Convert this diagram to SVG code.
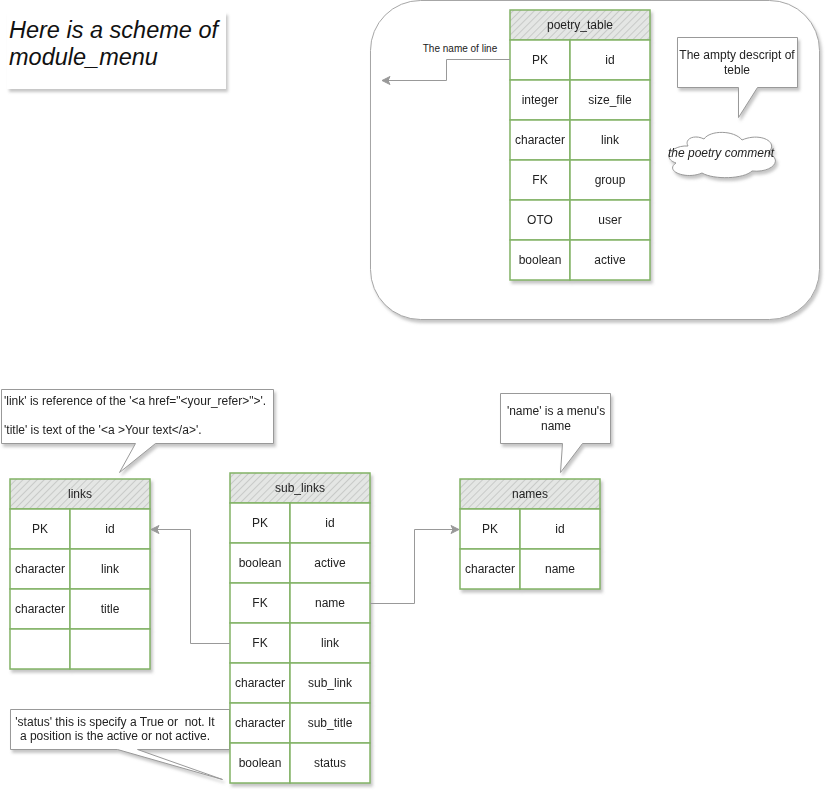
<svg xmlns="http://www.w3.org/2000/svg" width="831" height="803" viewBox="0 0 831 803">
<defs>
<filter id="sh" x="-10%" y="-10%" width="130%" height="130%">
<feDropShadow dx="2" dy="3" stdDeviation="1.5" flood-color="#808080" flood-opacity="0.45"/>
</filter>
<pattern id="hatch" width="5" height="5" patternUnits="userSpaceOnUse" patternTransform="rotate(45)">
<rect width="5" height="5" fill="#e4e6e4"/>
<line x1="0" y1="0" x2="0" y2="5" stroke="#b5b8b5" stroke-width="1.2"/>
</pattern>
<marker id="arr" markerWidth="10" markerHeight="10" refX="9" refY="5" orient="auto" markerUnits="userSpaceOnUse">
<path d="M1,1 L9,5 L1,9 L3,5 Z" fill="#999999" stroke="#999999" stroke-width="1"/>
</marker>
</defs>
<style>
.t{font-family:"Liberation Sans",Arial,sans-serif;font-size:12px;fill:#222;text-anchor:middle}
.cell{fill:#ffffff;stroke:#82b366;stroke-width:1.5}
.hdr{fill:url(#hatch);stroke:#82b366;stroke-width:1.5}
.call{fill:#ffffff;stroke:#999999;stroke-width:1}
.conn{fill:none;stroke:#999999;stroke-width:1}
</style>

<!-- title -->
<g id="title">
<rect x="7" y="12" width="219" height="77" fill="#ffffff" filter="url(#sh)"/>
<text x="9" y="38" font-family="'Liberation Sans',Arial,sans-serif" font-size="23.5" font-style="italic" fill="#111">Here is a scheme of</text>
<text x="9" y="65" font-family="'Liberation Sans',Arial,sans-serif" font-size="23.5" font-style="italic" fill="#111">module_menu</text>
</g>

<!-- container -->
<g id="container">
<rect x="370.5" y="0.5" width="449" height="319" rx="50" ry="50" fill="#ffffff" stroke="#a6a6a6" stroke-width="1" filter="url(#sh)"/>
</g>

<!-- poetry_table -->
<g id="poetry_table" filter="url(#sh)">
<rect class="hdr" x="510" y="10" width="140" height="30"/>
<text class="t" x="580" y="29">poetry_table</text>
<rect class="cell" x="510" y="40" width="60" height="40"/><rect class="cell" x="570" y="40" width="80" height="40"/>
<rect class="cell" x="510" y="80" width="60" height="40"/><rect class="cell" x="570" y="80" width="80" height="40"/>
<rect class="cell" x="510" y="120" width="60" height="40"/><rect class="cell" x="570" y="120" width="80" height="40"/>
<rect class="cell" x="510" y="160" width="60" height="40"/><rect class="cell" x="570" y="160" width="80" height="40"/>
<rect class="cell" x="510" y="200" width="60" height="40"/><rect class="cell" x="570" y="200" width="80" height="40"/>
<rect class="cell" x="510" y="240" width="60" height="40"/><rect class="cell" x="570" y="240" width="80" height="40"/>
<text class="t" x="540" y="64">PK</text><text class="t" x="610" y="64">id</text>
<text class="t" x="540" y="104">integer</text><text class="t" x="610" y="104">size_file</text>
<text class="t" x="540" y="144">character</text><text class="t" x="610" y="144">link</text>
<text class="t" x="540" y="184">FK</text><text class="t" x="610" y="184">group</text>
<text class="t" x="540" y="224">OTO</text><text class="t" x="610" y="224">user</text>
<text class="t" x="540" y="264">boolean</text><text class="t" x="610" y="264">active</text>
</g>

<!-- callout poetry -->
<g id="callout_poetry" filter="url(#sh)">
<path class="call" d="M677.5,37.5 H797.5 V87.5 H757.5 L738.5,117.5 V87.5 H677.5 Z"/>
<text class="t" x="737" y="59">The ampty descript of</text>
<text class="t" x="737" y="74">teble</text>
</g>

<!-- cloud -->
<g id="cloud" filter="url(#sh)">
<path d="M688,146 C672,145 661,158 676,163 C664,171 686,180 702,173 C714,180 744,179 752,171 C772,173 784,160 768,153 C780,142 760,132 742,140 C734,130 710,130 704,139 C694,134 684,139 688,146 Z" fill="#ffffff" stroke="#999999" stroke-width="1"/>
<text class="t" x="721" y="157" font-style="italic">the poetry comment</text>
</g>

<!-- links callout -->
<g id="callout_links" filter="url(#sh)">
<path class="call" d="M1.5,389.5 H273.5 V443.5 H155.5 L119.5,472.5 L135.5,443.5 H1.5 Z"/>
<text class="t" x="4" y="405" style="text-anchor:start">'link' is reference of the '&lt;a href="&lt;your_refer&gt;"&gt;'.</text>
<text class="t" x="4" y="434" style="text-anchor:start">'title' is text of the '&lt;a &gt;Your text&lt;/a&gt;'.</text>
</g>

<!-- names callout -->
<g id="callout_names" filter="url(#sh)">
<path class="call" d="M500.5,393.5 H610.5 V443.5 H582.5 L560.5,472.5 L562.5,443.5 H500.5 Z"/>
<text class="t" x="556" y="415">'name' is a menu's</text>
<text class="t" x="556" y="430">name</text>
</g>

<!-- status callout -->
<g id="callout_status" filter="url(#sh)">
<path class="call" d="M10.5,709.5 H229.5 V749.5 H137.5 L222.5,779.5 L117.5,749.5 H10.5 Z"/>
<text class="t" x="115" y="726" style="white-space:pre">'status' this is specify a True or  not. It</text>
<text class="t" x="115" y="740">a position is the active or not active.</text>
</g>

<!-- links table -->
<g id="links" filter="url(#sh)">
<rect class="hdr" x="10" y="479" width="140" height="30"/>
<text class="t" x="80" y="498">links</text>
<rect class="cell" x="10" y="509" width="60" height="40"/><rect class="cell" x="70" y="509" width="80" height="40"/>
<rect class="cell" x="10" y="549" width="60" height="40"/><rect class="cell" x="70" y="549" width="80" height="40"/>
<rect class="cell" x="10" y="589" width="60" height="40"/><rect class="cell" x="70" y="589" width="80" height="40"/>
<rect class="cell" x="10" y="629" width="60" height="40"/><rect class="cell" x="70" y="629" width="80" height="40"/>
<text class="t" x="40" y="533">PK</text><text class="t" x="110" y="533">id</text>
<text class="t" x="40" y="573">character</text><text class="t" x="110" y="573">link</text>
<text class="t" x="40" y="613">character</text><text class="t" x="110" y="613">title</text>
</g>

<!-- sub_links table -->
<g id="sub_links" filter="url(#sh)">
<rect class="hdr" x="230" y="473" width="140" height="30"/>
<text class="t" x="300" y="492">sub_links</text>
<rect class="cell" x="230" y="503" width="60" height="40"/><rect class="cell" x="290" y="503" width="80" height="40"/>
<rect class="cell" x="230" y="543" width="60" height="40"/><rect class="cell" x="290" y="543" width="80" height="40"/>
<rect class="cell" x="230" y="583" width="60" height="40"/><rect class="cell" x="290" y="583" width="80" height="40"/>
<rect class="cell" x="230" y="623" width="60" height="40"/><rect class="cell" x="290" y="623" width="80" height="40"/>
<rect class="cell" x="230" y="663" width="60" height="40"/><rect class="cell" x="290" y="663" width="80" height="40"/>
<rect class="cell" x="230" y="703" width="60" height="40"/><rect class="cell" x="290" y="703" width="80" height="40"/>
<rect class="cell" x="230" y="743" width="60" height="40"/><rect class="cell" x="290" y="743" width="80" height="40"/>
<text class="t" x="260" y="527">PK</text><text class="t" x="330" y="527">id</text>
<text class="t" x="260" y="567">boolean</text><text class="t" x="330" y="567">active</text>
<text class="t" x="260" y="607">FK</text><text class="t" x="330" y="607">name</text>
<text class="t" x="260" y="647">FK</text><text class="t" x="330" y="647">link</text>
<text class="t" x="260" y="687">character</text><text class="t" x="330" y="687">sub_link</text>
<text class="t" x="260" y="727">character</text><text class="t" x="330" y="727">sub_title</text>
<text class="t" x="260" y="767">boolean</text><text class="t" x="330" y="767">status</text>
</g>

<!-- names table -->
<g id="names" filter="url(#sh)">
<rect class="hdr" x="460" y="479" width="140" height="30"/>
<text class="t" x="530" y="498">names</text>
<rect class="cell" x="460" y="509" width="60" height="40"/><rect class="cell" x="520" y="509" width="80" height="40"/>
<rect class="cell" x="460" y="549" width="60" height="40"/><rect class="cell" x="520" y="549" width="80" height="40"/>
<text class="t" x="490" y="533">PK</text><text class="t" x="560" y="533">id</text>
<text class="t" x="490" y="573">character</text><text class="t" x="560" y="573">name</text>
</g>

<!-- connectors -->
<g id="connectors">
<path class="conn" d="M510,59.5 H446.5 V80.5 H382" marker-end="url(#arr)"/>
<path class="conn" d="M230,643.5 H190.5 V529.5 H151" marker-end="url(#arr)"/>
<path class="conn" d="M370,603.5 H414.5 V529.5 H459" marker-end="url(#arr)"/>
<text x="460" y="52" font-family="'Liberation Sans',Arial,sans-serif" font-size="10" fill="#222" text-anchor="middle">The name of line</text>
</g>
</svg>
